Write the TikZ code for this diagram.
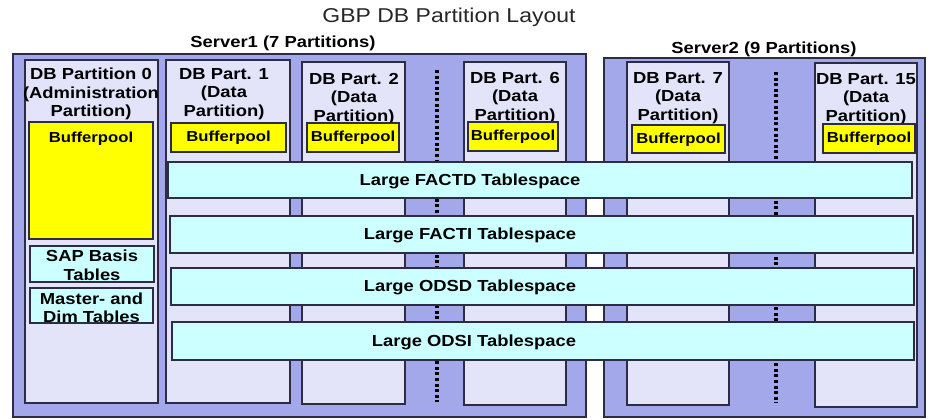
\documentclass[tikz,border=0pt]{standalone}
\usepackage{fontspec}
\setmainfont{Liberation Sans}[FakeStretch=1.15]
\definecolor{servc}{HTML}{A3A8EA}
\definecolor{partc}{HTML}{E3E3FA}
\definecolor{bordc}{HTML}{2C2C44}
\definecolor{tbsc}{HTML}{CCFFFF}
\definecolor{bufc}{HTML}{FFFF00}
\tikzset{
  serverbox/.style={draw=bordc, fill=servc, line width=1.4pt},
  partbox/.style={draw=bordc, fill=partc, line width=1.4pt},
  bufbox/.style={draw=bordc, fill=bufc, line width=1.2pt},
  tbsbox/.style={draw=bordc, fill=tbsc, line width=1.2pt},
  dotcol/.style={line width=3.4pt, dash pattern=on 3pt off 2.6pt, black},
  lbl/.style={inner sep=0pt, align=center, font=\bfseries\fontsize{16}{18.5}\selectfont},
  buflbl/.style={inner sep=0pt, font=\bfseries\fontsize{14.5}{16}\selectfont},
  tbslbl/.style={inner sep=0pt, font=\bfseries\fontsize{16}{18}\selectfont},
}
\begin{document}
\begin{tikzpicture}[x=1pt,y=-1pt]
\useasboundingbox (0,0) rectangle (932,419);
% title
\node[inner sep=0pt, text=black!85, font=\fontsize{20}{22}\selectfont] (title) at (449,17) {GBP DB Partition Layout};
\node[inner sep=0pt, font=\bfseries\fontsize{16}{18}\selectfont] (s1lbl) at (283,43) {Server1 (7 Partitions)};
\node[inner sep=0pt, font=\bfseries\fontsize{16}{18}\selectfont] (s2lbl) at (764,49) {Server2 (9 Partitions)};
% servers
\path[serverbox] (13,54) rectangle (586,417);
\path[serverbox] (604,58) rectangle (925,417);
% partitions
\path[partbox] (25,60) rectangle (158,403);
\path[partbox] (166,60) rectangle (290,403);
\path[partbox] (302,62) rectangle (405,404);
\path[partbox] (464,62) rectangle (566,405);
\path[partbox] (627,62) rectangle (729,405);
\path[partbox] (815,63) rectangle (917,407);
% dotted columns
\draw[dotcol] (437,70) -- (437,402);
\draw[dotcol] (776,72) -- (776,403);
% partition labels
\node[lbl, anchor=north] (p0) at (91,68) {DB Partition 0\\(Administration\\Partition)};
\node[lbl, anchor=north] (p1) at (224,68) {DB Part. 1\\(Data\\Partition)};
\node[lbl, anchor=north] (p2) at (354,73) {DB Part. 2\\(Data\\Partition)};
\node[lbl, anchor=north] (p6) at (515,72) {DB Part. 6\\(Data\\Partition)};
\node[lbl, anchor=north] (p7) at (678,72) {DB Part. 7\\(Data\\Partition)};
\node[lbl, anchor=north] (p15) at (866,73) {DB Part. 15\\(Data\\Partition)};
% bufferpools
\path[bufbox] (29,122) rectangle (153,239);
\path[bufbox] (171,123) rectangle (286,152);
\path[bufbox] (307,123) rectangle (399,152);
\path[bufbox] (468,122) rectangle (558,151);
\path[bufbox] (632,125) rectangle (725,153);
\path[bufbox] (823,124) rectangle (915,153);
\node[buflbl] (b0) at (91,139) {Bufferpool};
\node[buflbl] (b1) at (228.5,138) {Bufferpool};
\node[buflbl] (b2) at (353,138) {Bufferpool};
\node[buflbl] (b6) at (513,137) {Bufferpool};
\node[buflbl] (b7) at (678.5,139.5) {Bufferpool};
\node[buflbl] (b15) at (869,139) {Bufferpool};
% tables in partition 0
\path[fill=tbsc] (30,246) rectangle (154,282);
\node[lbl, anchor=north] (sap) at (92,250) {SAP Basis\\Tables};
\path[draw=bordc, line width=1.2pt] (30,246) rectangle (154,282);
\path[fill=tbsc] (30,288) rectangle (153,323);
\node[lbl, anchor=north, font=\bfseries\fontsize{16}{17.5}\selectfont] (mdt) at (91.5,293) {Master- and\\Dim Tables};
\path[fill=partc] (29,323.6) rectangle (154,330);
\path[draw=bordc, line width=1.2pt] (30,288) rectangle (153,323);
% tablespaces
\path[tbsbox] (168,162) rectangle (912,198);
\path[tbsbox] (170,216) rectangle (913,253);
\path[tbsbox] (171,268) rectangle (914,305);
\path[tbsbox] (172,322) rectangle (914,360);
\node[tbslbl] (t1) at (470,181) {Large FACTD Tablespace};
\node[tbslbl] (t2) at (470,235) {Large FACTI Tablespace};
\node[tbslbl] (t3) at (470,287) {Large ODSD Tablespace};
\node[tbslbl] (t4) at (474,342) {Large ODSI Tablespace};
\end{tikzpicture}
\end{document}
